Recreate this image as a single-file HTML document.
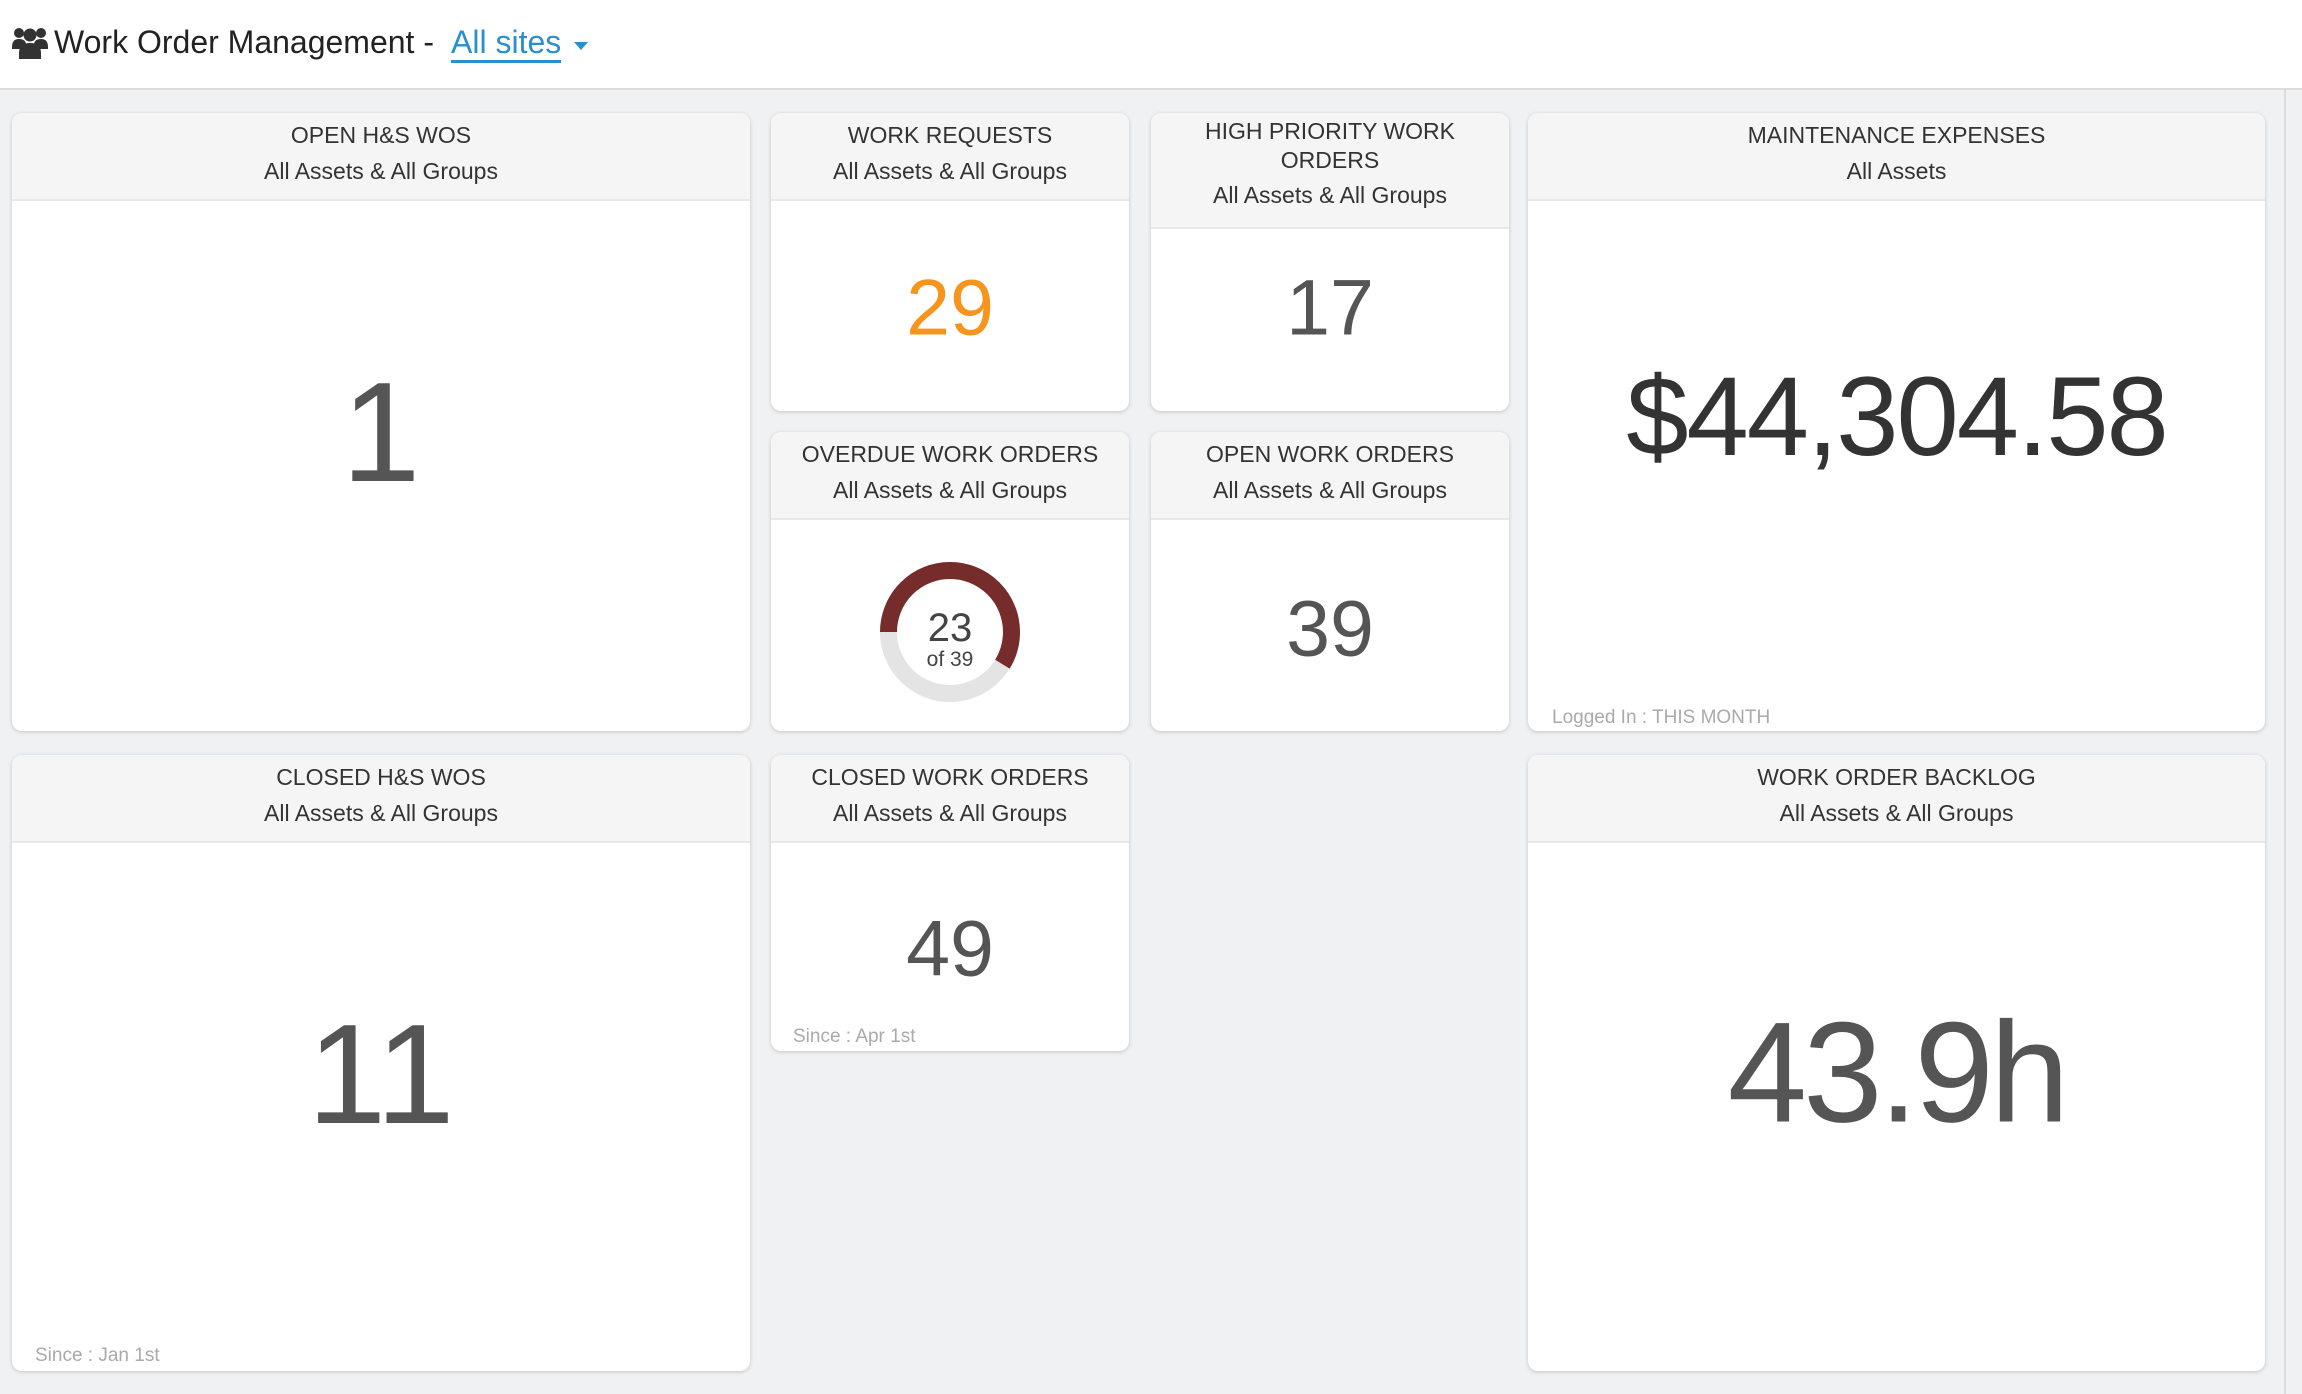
<!DOCTYPE html>
<html><head><meta charset="utf-8"><style>
*{margin:0;padding:0;box-sizing:border-box}
body{width:2302px;height:1394px;background:#f0f1f3;font-family:"Liberation Sans",sans-serif;position:relative;overflow:hidden;color:#333}
.top{position:absolute;left:0;top:0;width:2302px;height:90px;background:#fff;border-bottom:2px solid #dcdcdc}
.title{position:absolute;left:54px;top:24px;font-size:32px;color:#222}
.sites{position:absolute;left:451px;top:24px;font-size:32px;color:#2a8fd0;border-bottom:3px solid #2a8fd0;line-height:36px}
.caret{position:absolute;left:574px;top:42px;width:0;height:0;border-left:7px solid transparent;border-right:7px solid transparent;border-top:8px solid #2a8fd0}
.card{position:absolute;background:#fff;border-radius:10px;box-shadow:0 1px 4px rgba(0,0,0,.18);overflow:hidden}
.hd{position:absolute;left:0;top:0;width:100%;background:#f5f5f5;border-bottom:2px solid #e8e8e8;text-align:center;font-size:23px;color:#333;line-height:36px;padding-top:4px}
.num{position:absolute;left:50%;transform:translate(-50%,-50%);white-space:nowrap;color:#555;line-height:1}
.foot{position:absolute;font-size:19px;color:#aaa}
.sb{position:absolute;left:2284px;top:90px;width:2px;height:1304px;background:#dcdcdc}
</style></head><body>
<div class="top">
<svg style="position:absolute;left:12px;top:25px" width="36" height="34" viewBox="0 0 36 34"><g fill="#333"><circle cx="7" cy="8" r="5"/><circle cx="29" cy="8" r="5"/><circle cx="18" cy="10" r="6.5"/><path d="M0 22q0-8 7-8t7 6v4H0z"/><path d="M22 20q0-6 7-6t7 8v2H22z"/><path d="M7 34v-6q0-10 11-10t11 10v6z"/></g></svg>
<div class="title">Work Order Management -</div>
<div class="sites">All sites</div>
<div class="caret"></div>
</div>
<div class="sb"></div>

<div class="card" style="left:12px;top:113px;width:738px;height:618px">
<div class="hd" style="height:88px">OPEN H&amp;S WOS<br>All Assets &amp; All Groups</div>
<div class="num" style="top:320px;font-size:142px">1</div>
</div>

<div class="card" style="left:771px;top:113px;width:358px;height:298px">
<div class="hd" style="height:88px">WORK REQUESTS<br>All Assets &amp; All Groups</div>
<div class="num" style="top:194px;font-size:79px;color:#f7941d">29</div>
</div>

<div class="card" style="left:1151px;top:113px;width:358px;height:298px">
<div class="hd" style="height:116px;line-height:29px;padding-top:4px">HIGH PRIORITY WORK<br>ORDERS<br><span style="line-height:40px">All Assets &amp; All Groups</span></div>
<div class="num" style="top:194px;font-size:79px">17</div>
</div>

<div class="card" style="left:1528px;top:113px;width:737px;height:618px">
<div class="hd" style="height:88px">MAINTENANCE EXPENSES<br>All Assets</div>
<div class="num" style="top:304px;font-size:112px;color:#333;letter-spacing:-2px">$44,304.58</div>
<div class="foot" style="left:24px;top:594px">Logged In : THIS MONTH</div>
</div>

<div class="card" style="left:771px;top:432px;width:358px;height:299px">
<div class="hd" style="height:88px">OVERDUE WORK ORDERS<br>All Assets &amp; All Groups</div>
<svg style="position:absolute;left:108px;top:129px" width="142" height="142" viewBox="0 0 142 142">
<circle cx="71" cy="71" r="61.5" fill="none" stroke="#e4e4e4" stroke-width="17"/>
<circle cx="71" cy="71" r="61.5" fill="none" stroke="#772c2c" stroke-width="17" stroke-dasharray="227 400" transform="rotate(180 71 71)"/>
<text x="71" y="80" text-anchor="middle" font-size="40" fill="#444" font-family="Liberation Sans">23</text>
<text x="71" y="105" text-anchor="middle" font-size="21" fill="#444" font-family="Liberation Sans">of 39</text>
</svg>
</div>

<div class="card" style="left:1151px;top:432px;width:358px;height:299px">
<div class="hd" style="height:88px">OPEN WORK ORDERS<br>All Assets &amp; All Groups</div>
<div class="num" style="top:196px;font-size:79px">39</div>
</div>

<div class="card" style="left:12px;top:755px;width:738px;height:616px">
<div class="hd" style="height:88px">CLOSED H&amp;S WOS<br>All Assets &amp; All Groups</div>
<div class="num" style="top:320px;font-size:142px">11</div>
<div class="foot" style="left:23px;top:590px">Since : Jan 1st</div>
</div>

<div class="card" style="left:771px;top:755px;width:358px;height:296px">
<div class="hd" style="height:88px">CLOSED WORK ORDERS<br>All Assets &amp; All Groups</div>
<div class="num" style="top:193px;font-size:79px">49</div>
<div class="foot" style="left:22px;top:271px">Since : Apr 1st</div>
</div>

<div class="card" style="left:1528px;top:755px;width:737px;height:616px">
<div class="hd" style="height:88px">WORK ORDER BACKLOG<br>All Assets &amp; All Groups</div>
<div class="num" style="top:318px;font-size:143px;letter-spacing:-4px">43.9h</div>
</div>
</body></html>
